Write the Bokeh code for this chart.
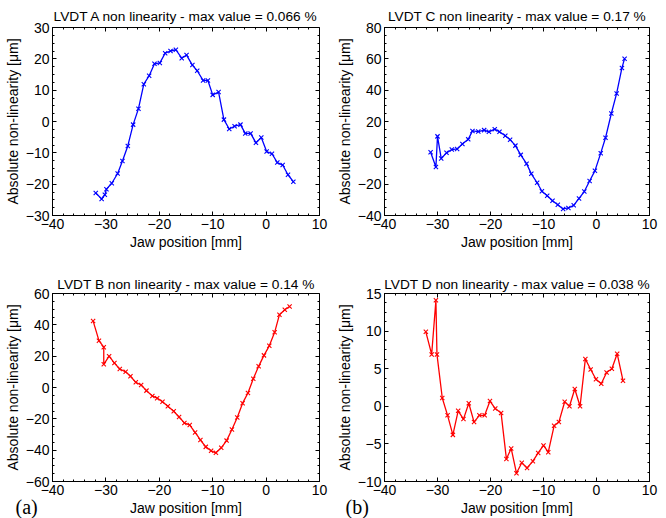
from bokeh.plotting import figure
from bokeh.layouts import GridBox
from bokeh.models import LinearAxis, SingleIntervalTicker, Range1d
from bokeh.core.properties import value
from bokeh.embed import file_html
from bokeh.resources import INLINE

# ---------------- data ----------------
xA = [-31.9, -30.8, -30.2, -29.9, -28.9, -27.8, -26.9, -25.9, -24.9, -23.9, -22.9, -21.9, -20.9,
      -19.9, -18.9, -17.9, -16.9, -15.8, -14.9, -13.8, -12.9, -11.8, -10.9, -10.0, -8.9, -7.9,
      -6.9, -5.9, -4.8, -3.9, -2.9, -1.9, -0.9, 0.1, 1.1, 2.1, 3.1, 4.1, 5.1]
yA = [-22.8, -24.7, -23.4, -21.6, -19.7, -16.6, -12.6, -7.8, -1.0, 4.1, 11.9, 14.6, 18.4,
      18.7, 21.8, 22.5, 22.9, 20.2, 21.2, 18.0, 16.2, 13.1, 13.1, 8.5, 9.4, 0.6,
      -2.4, -1.5, -1.0, -3.8, -3.8, -6.8, -5.1, -9.6, -10.3, -13.1, -13.9, -17.0, -19.2]

xC = [-31.3, -30.3, -30.0, -29.3, -28.3, -27.3, -26.3, -25.3, -24.2, -23.4, -22.3, -21.2, -20.3,
      -19.2, -18.3, -17.2, -16.3, -15.3, -14.3, -13.2, -12.3, -11.2, -10.3, -9.3, -8.3, -7.3,
      -6.3, -5.3, -4.3, -3.3, -2.3, -1.3, -0.3, 0.8, 1.7, 2.8, 3.8, 4.8, 5.3]
yC = [0.4, -9.0, 10.5, -3.6, 0.0, 2.1, 2.5, 5.7, 8.6, 14.0, 13.6, 14.5, 13.4,
      15.1, 13.4, 10.9, 8.4, 4.6, -1.3, -6.9, -13.4, -19.1, -24.5, -27.4, -30.6, -33.1,
      -35.8, -35.2, -33.5, -29.1, -24.7, -18.0, -11.5, -0.2, 9.6, 25.1, 37.9, 54.2, 60.1]

xB = [-32.4, -31.3, -30.4, -30.4, -29.4, -28.4, -27.4, -26.3, -25.4, -24.4, -23.4, -22.4, -21.3,
      -20.4, -19.4, -18.4, -17.3, -16.3, -15.3, -14.3, -13.3, -12.3, -11.3, -10.3, -9.4, -8.4,
      -7.4, -6.4, -5.4, -4.4, -3.4, -2.4, -1.4, -0.4, 0.6, 1.6, 2.5, 3.5, 4.4]
yB = [42.5, 29.9, 25.7, 14.8, 20.0, 15.6, 11.8, 10.0, 7.2, 3.3, 1.6, -2.0, -5.4,
      -6.8, -9.1, -12.0, -15.2, -18.8, -22.6, -24.0, -28.7, -33.5, -37.9, -40.4, -41.7, -38.5,
      -33.9, -26.8, -19.2, -10.0, -3.5, 5.6, 13.5, 20.5, 26.6, 35.2, 46.5, 49.6, 51.7]

xD = [-32.2, -31.1, -30.3, -30.1, -29.1, -28.1, -27.1, -26.1, -25.1, -24.1, -23.1, -22.1, -21.1,
      -20.1, -19.1, -18.0, -17.0, -16.1, -15.1, -14.1, -13.1, -12.0, -11.0, -10.0, -9.1, -8.0,
      -7.1, -6.0, -5.1, -4.1, -3.1, -2.1, -1.1, -0.1, 0.9, 1.9, 2.9, 3.9, 5.0]
yD = [9.9, 6.9, 14.1, 6.9, 1.1, -1.2, -3.8, -0.6, -1.7, 0.4, -2.1, -1.2, -1.2,
      0.7, -0.3, -0.9, -7.0, -5.6, -8.9, -7.5, -8.2, -7.3, -6.2, -5.2, -6.1, -2.6,
      -2.1, 0.6, 0.0, 2.3, 0.0, 6.3, 4.9, 3.6, 3.0, 4.5, 5.0, 7.0, 3.4]

titles = ["LVDT A non linearity - max value = 0.066 %",
          "LVDT C non linearity - max value = 0.17 %",
          "LVDT B non linearity - max value = 0.14 %",
          "LVDT D non linearity - max value = 0.038 %"]
x_label = "Jaw position [mm]"
y_label = "Absolute non-linearity [\u03bcm]"
x_limits = (-40, 10)
y_limits = [(-30, 30), (-40, 80), (-60, 60), (-10, 15)]
y_steps = [10, 20, 20, 5]
panel_tags = ["(a)", "(b)"]

FONT = "Liberation Sans"
SERIF = "Liberation Serif"


def style_axis(ax, step, minor, show_labels):
    ax.ticker = SingleIntervalTicker(interval=step, num_minor_ticks=minor)
    ax.major_tick_in = 4
    ax.major_tick_out = 0
    ax.minor_tick_in = 2
    ax.minor_tick_out = 0
    ax.major_tick_line_color = "black"
    ax.minor_tick_line_color = "black"
    ax.axis_line_color = "black"
    if show_labels:
        ax.major_label_text_font = FONT
        ax.major_label_text_font_size = "14px"
        ax.major_label_text_color = "black"
        ax.major_label_standoff = 3
        ax.axis_label_text_font = FONT
        ax.axis_label_text_font_size = "14px"
        ax.axis_label_text_font_style = "normal"
        ax.axis_label_text_color = "black"
        ax.axis_label_standoff = 2
    else:
        ax.major_label_text_font_size = "0px"
        ax.major_label_text_color = None
        ax.major_label_standoff = 0
        ax.axis_label = None
        ax.axis_label_standoff = 0


def make_panel(x, y, color, title, ylim, ystep, w, h, bl, br, bt, bb, tstand):
    p = figure(width=w, height=h, x_range=Range1d(*x_limits), y_range=Range1d(*ylim),
               output_backend="svg", toolbar_location=None,
               min_border_left=bl, min_border_right=br, min_border_top=bt, min_border_bottom=bb,
               title=title)
    p.xgrid.visible = False
    p.ygrid.visible = False
    p.outline_line_color = "black"
    p.outline_line_alpha = 1
    p.outline_line_width = 1
    p.background_fill_color = "white"
    p.border_fill_color = "white"
    p.title.text_font = FONT
    p.title.text_font_size = "13.7px"
    p.title.text_font_style = "normal"
    p.title.text_color = "black"
    p.title.align = "center"
    p.title.standoff = tstand

    p.xaxis.axis_label = x_label
    p.yaxis.axis_label = y_label
    style_axis(p.xaxis[0], 10, 5, True)
    style_axis(p.yaxis[0], ystep, 4, True)

    # mirrored ticks on the top and right edges of the box
    top = LinearAxis(fixed_location=ylim[1])
    style_axis(top, 10, 5, False)
    p.add_layout(top, "above")
    right = LinearAxis(fixed_location=x_limits[1])
    style_axis(right, ystep, 4, False)
    p.add_layout(right, "right")

    p.line(x, y, line_color=color, line_width=1.3)
    p.scatter(x, y, marker="x", size=6, line_color=color, line_width=1.1)
    return p


def make_tag(tag, w, h, tx, ty):
    # transparent overlay that carries the panel tag in pixel space
    t = figure(width=w, height=h, x_range=Range1d(0, w), y_range=Range1d(0, h),
               output_backend="svg", toolbar_location=None, min_border=0,
               x_axis_type=None, y_axis_type=None, frame_align=False)
    t.xgrid.visible = False
    t.ygrid.visible = False
    t.outline_line_color = None
    t.background_fill_color = None
    t.border_fill_color = None
    t.text(x=[tx], y=[ty], text=[tag], text_font=value(SERIF), text_font_size="20px",
           text_baseline="alphabetic", text_align="left", text_color="black")
    return t


pA = make_panel(xA, yA, "blue", titles[0], y_limits[0], y_steps[0], 333, 252, 52, 14, 27, 35, 8)
pC = make_panel(xC, yC, "blue", titles[1], y_limits[1], y_steps[1], 333, 252, 50, 17, 27, 35, 8)
pB = make_panel(xB, yB, "red", titles[2], y_limits[2], y_steps[2], 333, 266, 52, 14, 41, 35, 4)
pD = make_panel(xD, yD, "red", titles[3], y_limits[3], y_steps[3], 333, 266, 50, 17, 41, 35, 4)

tagA = make_tag(panel_tags[0], 333, 266, 15, 12)
tagB = make_tag(panel_tags[1], 333, 266, 12, 12)

layout = GridBox(children=[(pA, 0, 0), (pC, 0, 1), (pB, 1, 0), (pD, 1, 1),
                           (tagA, 1, 0), (tagB, 1, 1)], spacing=0)

open("out.html", "w").write(file_html(layout, INLINE))
